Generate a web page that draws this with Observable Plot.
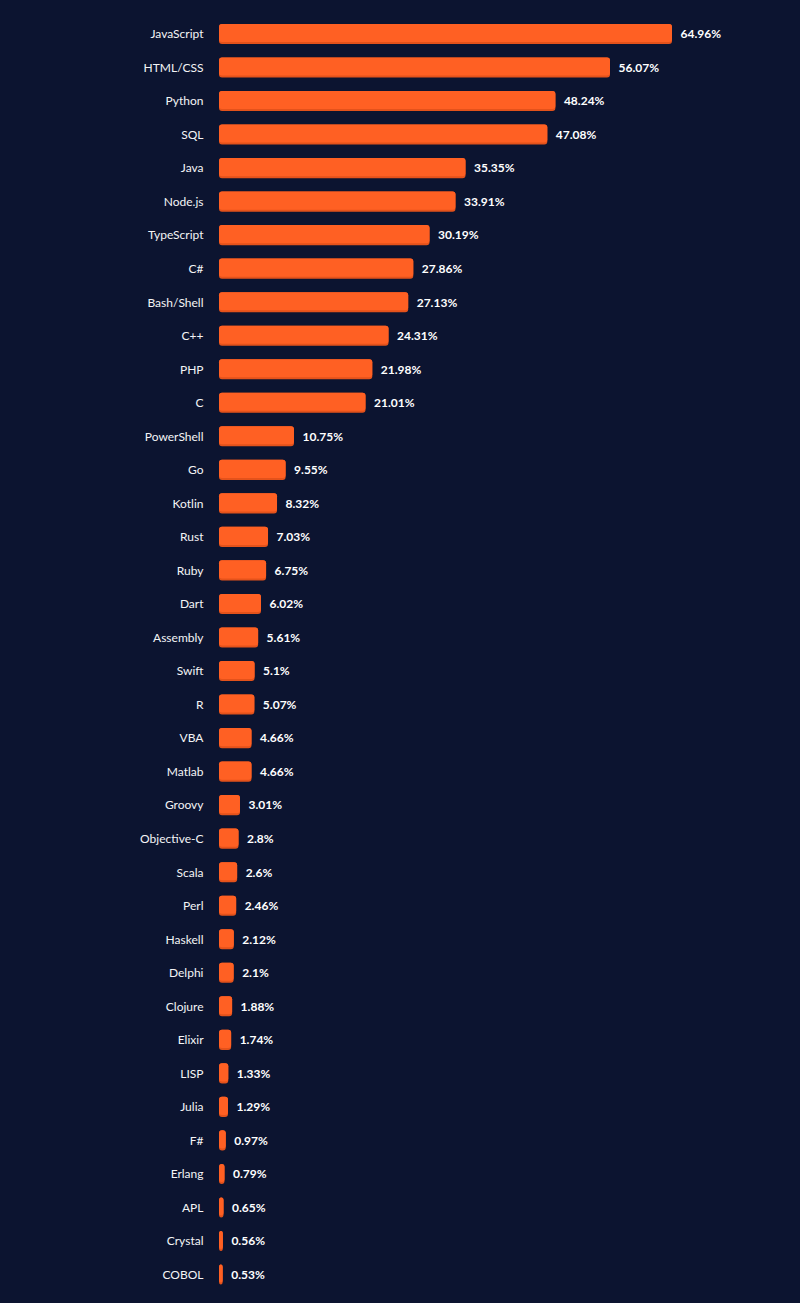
<!DOCTYPE html>
<html>
<head>
<meta charset="utf-8">
<script src="https://cdn.jsdelivr.net/npm/d3@7"></script>
<script src="https://cdn.jsdelivr.net/npm/@observablehq/plot@0.6"></script>
<style>
  html, body { margin: 0; padding: 0; background: #0c1430; }
  #chart svg { display: block; }
</style>
</head>
<body>
<div id="chart"></div>
<script>
const languages = ["JavaScript","HTML/CSS","Python","SQL","Java","Node.js","TypeScript","C#","Bash/Shell","C++","PHP","C","PowerShell","Go","Kotlin","Rust","Ruby","Dart","Assembly","Swift","R","VBA","Matlab","Groovy","Objective-C","Scala","Perl","Haskell","Delphi","Clojure","Elixir","LISP","Julia","F#","Erlang","APL","Crystal","COBOL"];
const shares = [64.96,56.07,48.24,47.08,35.35,33.91,30.19,27.86,27.13,24.31,21.98,21.01,10.75,9.55,8.32,7.03,6.75,6.02,5.61,5.1,5.07,4.66,4.66,3.01,2.8,2.6,2.46,2.12,2.1,1.88,1.74,1.33,1.29,0.97,0.79,0.65,0.56,0.53];
const labels = ["64.96%","56.07%","48.24%","47.08%","35.35%","33.91%","30.19%","27.86%","27.13%","24.31%","21.98%","21.01%","10.75%","9.55%","8.32%","7.03%","6.75%","6.02%","5.61%","5.1%","5.07%","4.66%","4.66%","3.01%","2.8%","2.6%","2.46%","2.12%","2.1%","1.88%","1.74%","1.33%","1.29%","0.97%","0.79%","0.65%","0.56%","0.53%"];

const data = languages.map((name, i) => ({name, value: shares[i], label: labels[i]}));

const chart = Plot.plot({
  width: 800,
  height: 1303,
  marginLeft: 219,
  marginRight: 128,
  marginTop: 10.5,
  marginBottom: 5,
  style: {background: "#0c1430", color: "#f4f4f6", fontFamily: "Lato, 'Open Sans', sans-serif", fontSize: "12px"},
  x: {domain: [0, 64.96], axis: null},
  y: {domain: languages, padding: 0.4, round: false, label: null, tickSize: 0, tickPadding: 16},
  marks: [
    Plot.barX(data, {x: "value", y: "name", fill: "#e4521b", rx: 3}),
    Plot.barX(data, {x: "value", y: "name", fill: "#ff6023", rx: 3, insetBottom: 2}),
    Plot.text(data, {x: "value", y: "name", text: "label", dx: 8, textAnchor: "start", fill: "#ffffff", fontWeight: "bold", fontSize: 12})
  ]
});
document.getElementById("chart").appendChild(chart);
</script>
</body>
</html>
